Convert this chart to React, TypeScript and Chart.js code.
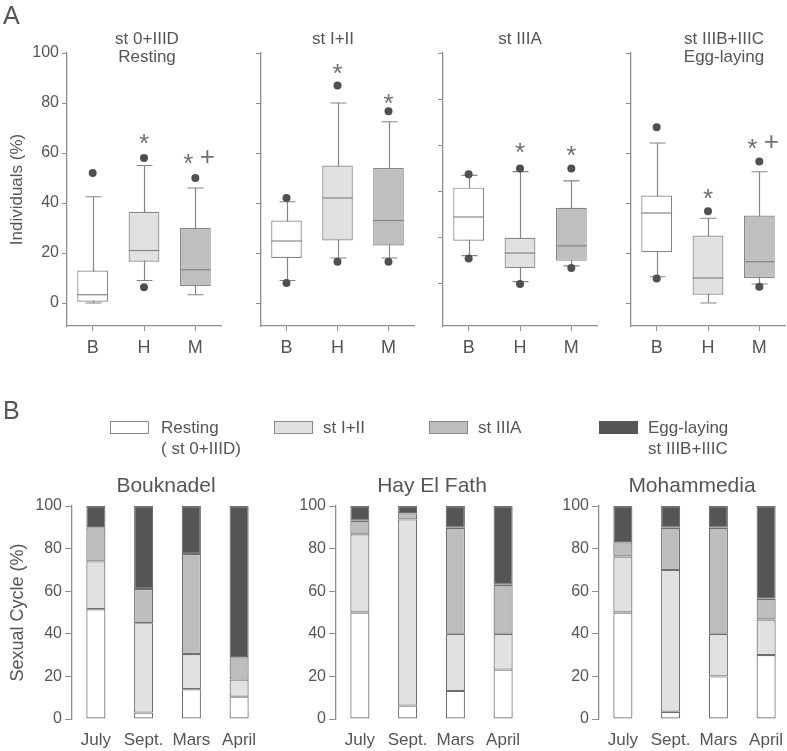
import React, { useEffect, useRef } from 'react';
import { Chart, registerables } from 'chart.js';

Chart.register(...registerables);

const FONT = '"Liberation Sans", Arial, Helvetica, sans-serif';
Chart.defaults.font.family = FONT;

// ---------------- Panel A data ----------------
const sites = ['B', 'H', 'M'];
const yTicks = [0, 20, 40, 60, 80, 100];
const panelTitles = [['st 0+IIID', 'Resting'], ['st I+II'], ['st IIIA'], ['st IIIB+IIIC', 'Egg-laying']];

// [whisker low, Q1, median, Q3, whisker high] for B, H, M
const statsResting = [[0, 0.5, 3.3, 13, 42.5], [9, 16.5, 21, 36.5, 55], [3.3, 6.8, 13.3, 30, 46]];
const outliersResting = [[52], [58, 6.3], [50]];
const starsResting = [null, 67, 59];
const plusResting = [false, false, true];

const statsStI = [[9, 18, 24.8, 33, 40.5], [18, 25, 42, 55, 80], [18, 23, 33, 54, 72.5]];
const outliersStI = [[42, 8], [87, 16.5], [76.7, 16.5]];
const starsStI = [null, 95, 83];
const plusStI = [false, false, false];

const statsStIIIA = [[12.3, 18.7, 29, 41.7, 47], [1, 6.9, 13.4, 20, 48.6], [7.8, 10, 16.5, 33, 44.6]];
const outliersStIIIA = [[47.5, 11], [50, 0], [50, 6.9]];
const starsStIIIA = [null, 60, 59];
const plusStIIIA = [false, false, false];

const statsEgg = [[10.5, 20.3, 36, 43, 64], [0, 3.3, 10, 27, 33.9], [7.6, 10, 16.5, 35, 52.5]];
const outliersEgg = [[70.3, 9.8], [36.7], [56.6, 6.5]];
const starsEgg = [null, 45, 65];
const plusEgg = [false, false, true];

// ---------------- Panel B data ----------------
const months = ['July', 'Sept.', 'Mars', 'April'];
const stageNames = ['Resting', 'st I+II', 'st IIIA', 'Egg-laying'];
const siteNames = ['Bouknadel', 'Hay El Fath', 'Mohammedia'];

const boukRest = [51.5, 3, 14, 10.5];
const boukStI = [22.5, 42, 16.5, 8];
const boukStIIIA = [16, 16, 47, 10.5];
const boukEgg = [10, 39, 22.5, 71];

const hayRest = [50, 6.3, 13.2, 23.2];
const hayStI = [36.7, 87.4, 26.8, 16.8];
const hayStIIIA = [6.4, 2.9, 49.8, 23];
const hayEgg = [6.9, 3.4, 10.2, 37];

const mohRest = [50, 3.4, 20, 30];
const mohStI = [26.3, 66.6, 20, 16.7];
const mohStIIIA = [6.7, 19.8, 49.8, 9.7];
const mohEgg = [17, 10.2, 10.2, 43.6];

// ---------------- styles / layout ----------------
const CW = 800;
const CH = 751;
const TEXT = '#555555';
const AXIS = '#8e8e8e';
const BOX_LINE = '#858585';
const BAR_LINE = '#6e6e6e';
const STAR = '#707070';
const DOT = '#505050';
const boxFills = ['#ffffff', '#e1e1e1', '#bfbfbf'];
const stageFills = ['#ffffff', '#e1e1e1', '#bdbdbd', '#555555'];
const CAP = 8;

const boxPanels = [
  { stats: statsResting, outliers: outliersResting, stars: starsResting, plus: plusResting, left: 67, right: 221, yMin: -9.2, labels: true },
  { stats: statsStI, outliers: outliersStI, stars: starsStI, plus: plusStI, left: 261, right: 414, yMin: -9.2, labels: false },
  { stats: statsStIIIA, outliers: outliersStIIIA, stars: starsStIIIA, plus: plusStIIIA, left: 443, right: 597, yMin: -18.2, labels: false },
  { stats: statsEgg, outliers: outliersEgg, stars: starsEgg, plus: plusEgg, left: 631, right: 785, yMin: -9.2, labels: false },
];
const titleCentersA = [147, 333, 520, 724];

const barPanels = [
  { series: [boukRest, boukStI, boukStIIIA, boukEgg], left: 72, right: 263, yTitle: true },
  { series: [hayRest, hayStI, hayStIIIA, hayEgg], left: 336, right: 527, yTitle: false },
  { series: [mohRest, mohStI, mohStIIIA, mohEgg], left: 599, right: 790, yTitle: false },
];
const titleCentersB = [166, 432, 692];

function makeBoxPlugin(stats: number[][], stars: (number | null)[], plus: boolean[]) {
  return {
    id: 'boxWhiskers',
    beforeDatasetsDraw(chart: any) {
      const { ctx } = chart;
      const x = chart.scales.x;
      const y = chart.scales.y;
      ctx.save();
      ctx.strokeStyle = BOX_LINE;
      ctx.lineWidth = 1.2;
      stats.forEach((s, i) => {
        const px = Math.round(x.getPixelForValue(i)) + 0.5;
        const lo = y.getPixelForValue(s[0]);
        const hi = y.getPixelForValue(s[4]);
        ctx.beginPath();
        ctx.moveTo(px, lo);
        ctx.lineTo(px, hi);
        ctx.moveTo(px - CAP, lo);
        ctx.lineTo(px + CAP, lo);
        ctx.moveTo(px - CAP, hi);
        ctx.lineTo(px + CAP, hi);
        ctx.stroke();
      });
      ctx.restore();
    },
    afterDatasetsDraw(chart: any) {
      const { ctx } = chart;
      const x = chart.scales.x;
      const y = chart.scales.y;
      const meta = chart.getDatasetMeta(1);
      ctx.save();
      ctx.strokeStyle = BOX_LINE;
      ctx.lineWidth = 1.2;
      stats.forEach((s, i) => {
        const bar = meta.data[i];
        const half = bar.width / 2;
        const py = y.getPixelForValue(s[2]);
        ctx.beginPath();
        ctx.moveTo(bar.x - half, py);
        ctx.lineTo(bar.x + half, py);
        ctx.stroke();
      });
      ctx.font = `26px ${FONT}`;
      ctx.textAlign = 'center';
      ctx.textBaseline = 'alphabetic';
      ctx.fillStyle = STAR;
      stars.forEach((v, i) => {
        if (v == null) return;
        const px = x.getPixelForValue(i);
        const py = y.getPixelForValue(v);
        const sx = plus[i] ? px - 7 : px;
        ctx.fillText('*', sx, py + 16);
        if (plus[i]) ctx.fillText('+', px + 12, py + 9);
      });
      ctx.restore();
    },
  };
}

function boxConfig(p: any) {
  const YW = 60;
  const XH = 40;
  const top = 53;
  const bottom = 326;
  const points = p.outliers.flatMap((arr: number[], i: number) => arr.map((v) => ({ x: sites[i], y: v })));
  return {
    type: 'bar',
    data: {
      labels: sites,
      datasets: [
        {
          type: 'line',
          data: points,
          showLine: false,
          pointRadius: 4,
          pointBackgroundColor: DOT,
          pointBorderWidth: 0,
          order: 0,
        },
        {
          type: 'bar',
          data: p.stats.map((s: number[]) => [s[1], s[3]]),
          backgroundColor: boxFills,
          borderColor: BOX_LINE,
          borderWidth: 1.2,
          borderSkipped: false,
          barPercentage: 0.6,
          categoryPercentage: 1,
          order: 1,
        },
      ],
    },
    options: {
      responsive: false,
      animation: false,
      events: [],
      layout: { padding: { left: p.left - YW, right: CW - p.right, top, bottom: CH - bottom - XH } },
      plugins: { legend: { display: false }, tooltip: { enabled: false }, title: { display: false } },
      scales: {
        x: {
          offset: true,
          grid: { drawOnChartArea: false, offset: false, tickLength: 5, color: AXIS, lineWidth: 1 },
          border: { color: AXIS, width: 1.3 },
          ticks: { color: TEXT, font: { size: 18 }, padding: 6 },
          afterFit: (s: any) => { s.height = XH; },
        },
        y: {
          min: p.yMin,
          max: 100,
          afterBuildTicks: (s: any) => { s.ticks = yTicks.map((v) => ({ value: v })); },
          grid: { drawOnChartArea: false, tickLength: 5, color: AXIS, lineWidth: 1 },
          border: { color: AXIS, width: 1.3 },
          ticks: { color: TEXT, font: { size: 16 }, padding: 3, callback: (v: any) => (p.labels ? String(v) : '') },
          title: { display: p.labels, text: 'Individuals (%)', color: TEXT, font: { size: 17 }, padding: { top: 0, bottom: 0 } },
          afterFit: (s: any) => { s.width = YW; },
        },
      },
    },
    plugins: [makeBoxPlugin(p.stats, p.stars, p.plus)],
  };
}

function barConfig(p: any) {
  const YW = 65;
  const XH = 30;
  const top = 506;
  const bottom = 719;
  return {
    type: 'bar',
    data: {
      labels: months,
      datasets: p.series.map((vals: number[], k: number) => ({
        label: stageNames[k],
        data: vals,
        backgroundColor: stageFills[k],
        borderColor: BAR_LINE,
        borderWidth: 1.2,
        borderSkipped: false,
        barPercentage: 0.4,
        categoryPercentage: 1,
      })),
    },
    options: {
      responsive: false,
      animation: false,
      events: [],
      layout: { padding: { left: p.left - YW, right: CW - p.right, top, bottom: CH - bottom - XH } },
      plugins: { legend: { display: false }, tooltip: { enabled: false }, title: { display: false } },
      scales: {
        x: {
          stacked: true,
          grid: { display: false, drawTicks: false },
          border: { display: false },
          ticks: { color: TEXT, font: { size: 17 }, padding: 11 },
          afterFit: (s: any) => { s.height = XH; },
        },
        y: {
          stacked: true,
          min: 0,
          max: 100,
          afterBuildTicks: (s: any) => { s.ticks = yTicks.map((v) => ({ value: v })); },
          grid: { drawOnChartArea: false, tickLength: 7, color: AXIS, lineWidth: 1 },
          border: { color: AXIS, width: 1.3 },
          ticks: { color: TEXT, font: { size: 16 }, padding: 3 },
          title: { display: p.yTitle, text: 'Sexual Cycle (%)', color: TEXT, font: { size: 18 }, padding: { top: 0, bottom: 0 } },
          afterFit: (s: any) => { s.width = YW; },
        },
      },
    },
  };
}

function ChartCanvas({ make }: { make: () => any }) {
  const ref = useRef<HTMLCanvasElement>(null);
  useEffect(() => {
    const chart = new Chart(ref.current as HTMLCanvasElement, make());
    return () => chart.destroy();
  }, []);
  return (
    <canvas
      ref={ref}
      width={CW}
      height={CH}
      style={{ position: 'absolute', left: 0, top: 0, width: CW, height: CH }}
    />
  );
}

function Label({ x, y, size, lh, children, align = 'left' }: any) {
  const style: any = {
    position: 'absolute',
    top: y - lh / 2,
    fontSize: size,
    lineHeight: `${lh}px`,
    fontFamily: FONT,
    color: TEXT,
    whiteSpace: 'nowrap',
  };
  if (align === 'center') {
    style.left = x - 150;
    style.width = 300;
    style.textAlign = 'center';
  } else {
    style.left = x;
  }
  return <div style={style}>{children}</div>;
}

const legendItems = [
  { x: 110, tx: 161, lines: ['Resting', '( st 0+IIID)'] },
  { x: 274, tx: 323, lines: ['st I+II'] },
  { x: 429, tx: 478, lines: ['st IIIA'] },
  { x: 599, tx: 648, lines: ['Egg-laying', 'st IIIB+IIIC'] },
];

export default function App() {
  return (
    <div
      style={{
        position: 'absolute',
        left: 0,
        top: 0,
        width: 787,
        height: 751,
        overflow: 'hidden',
        background: '#ffffff',
      }}
    >
      {boxPanels.map((p, i) => (
        <ChartCanvas key={'a' + i} make={() => boxConfig(p)} />
      ))}
      {barPanels.map((p, i) => (
        <ChartCanvas key={'b' + i} make={() => barConfig(p)} />
      ))}

      <Label x={3} y={15} size={25} lh={28}>A</Label>
      <Label x={3} y={410} size={25} lh={28}>B</Label>

      {panelTitles.map((lines, i) =>
        lines.map((t, j) => (
          <Label key={`t${i}-${j}`} x={titleCentersA[i]} y={38 + j * 18.5} size={17} lh={19} align="center">
            {t}
          </Label>
        ))
      )}

      {siteNames.map((t, i) => (
        <Label key={'s' + i} x={titleCentersB[i]} y={484.5} size={21} lh={24} align="center">
          {t}
        </Label>
      ))}

      {legendItems.map((it, i) => (
        <React.Fragment key={'l' + i}>
          <div
            style={{
              position: 'absolute',
              left: it.x,
              top: 421,
              width: 39,
              height: 13,
              boxSizing: 'border-box',
              background: stageFills[i],
              border: `1px solid ${i === 3 ? '#555555' : '#8a8a8a'}`,
            }}
          />
          {it.lines.map((t, j) => (
            <Label key={j} x={it.tx} y={427 + j * 21.5} size={17} lh={21}>
              {t}
            </Label>
          ))}
        </React.Fragment>
      ))}
    </div>
  );
}
